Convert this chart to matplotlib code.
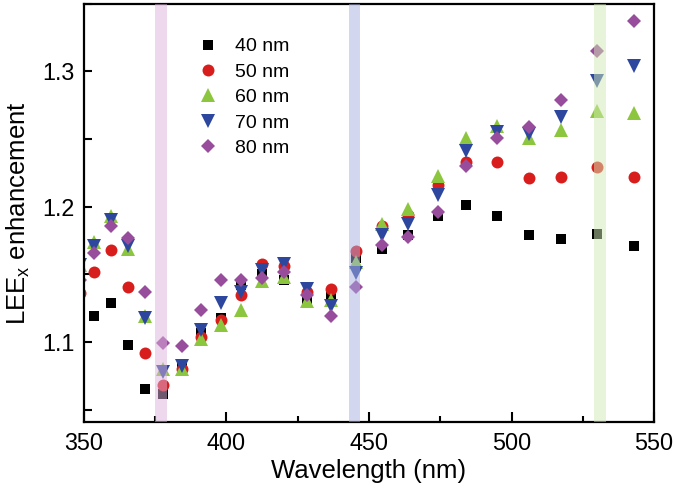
import numpy as np
import matplotlib
matplotlib.use("Agg")
import matplotlib.pyplot as plt
from matplotlib.ticker import MultipleLocator

plt.rcParams['font.family'] = ['Liberation Sans', 'DejaVu Sans']

# wavelength columns (nm); first column is cut by the left axis
wavelength = [348.5, 353.6, 359.5, 365.3, 371.4, 377.6, 384.3, 391.0, 398.0,
              405.0, 412.6, 420.2, 428.4, 436.5, 445.4, 454.7, 463.8, 474.3,
              484.0, 494.8, 506.0, 517.5, 530.1, 543.0]

nan = np.nan
lee_40 = [nan, 1.119, 1.129, 1.098, 1.065, 1.062, 1.082, 1.107, 1.118,
          1.142, 1.150, 1.146, 1.132, 1.135, 1.162, 1.169, 1.179, 1.193,
          1.201, 1.193, 1.179, 1.176, 1.180, 1.171]
lee_50 = [1.136, 1.152, 1.168, 1.141, 1.092, 1.068, 1.080, 1.104, 1.116,
          1.135, 1.158, 1.156, 1.137, 1.139, 1.167, 1.186, 1.194, 1.216,
          1.233, 1.233, 1.221, 1.222, 1.229, 1.222]
lee_60 = [1.157, 1.174, 1.193, 1.169, 1.119, 1.080, 1.080, 1.102, 1.113,
          1.124, 1.145, 1.148, 1.130, 1.131, 1.159, 1.187, 1.198, 1.223,
          1.251, 1.260, 1.251, 1.257, 1.271, 1.269]
lee_70 = [1.157, 1.171, 1.190, 1.171, 1.118, 1.078, 1.082, 1.109, 1.129,
          1.137, 1.153, 1.158, 1.139, 1.127, 1.151, 1.179, 1.187, 1.209,
          1.241, 1.255, 1.254, 1.266, 1.293, 1.304]
lee_80 = [1.146, 1.166, 1.186, 1.177, 1.137, 1.099, 1.097, 1.124, 1.146,
          1.146, 1.147, 1.152, 1.135, 1.119, 1.141, 1.172, 1.178, 1.196,
          1.230, 1.251, 1.259, 1.279, 1.315, 1.337]

labels = ['40 nm', '50 nm', '60 nm', '70 nm', '80 nm']
colors = ['#000000', '#d81e1c', '#8cc63e', '#2c479d', '#984c9c']
markers = ['s', 'o', '^', 'v', 'D']
sizes = [7.6, 8.6, 9.6, 9.6, 7.3]

# highlighted wavelength bands (nm)
bands = [(375.0, 379.0), (443.0, 447.0), (529.0, 533.0)]
band_colors = ['#dcb3dc', '#a9afe0', '#d2eab5']

fig = plt.figure(figsize=(6.75, 4.97), dpi=100)
ax = fig.add_axes([0.1244, 0.151, 0.8446, 0.8415])

series = [lee_40, lee_50, lee_60, lee_70, lee_80]
for vals, lab, c, m, ms in zip(series, labels, colors, markers, sizes):
    ax.plot(wavelength, vals, linestyle='none', marker=m, color=c,
            markersize=ms, markeredgewidth=0, label=lab, zorder=2)

for (lo, hi), bc in zip(bands, band_colors):
    ax.axvspan(lo, hi, color=bc, alpha=0.5, lw=0, zorder=3)

ax.set_xlim(350, 550)
ax.set_ylim(1.041, 1.35)
ax.xaxis.set_major_locator(MultipleLocator(50))
ax.xaxis.set_minor_locator(MultipleLocator(25))
ax.yaxis.set_major_locator(MultipleLocator(0.1))
ax.yaxis.set_minor_locator(MultipleLocator(0.05))
ax.tick_params(axis='both', which='both', direction='in', width=1.5,
               labelsize=16.8, pad=7)
ax.tick_params(axis='x', which='major', length=7)
ax.tick_params(axis='x', which='minor', length=4)
ax.tick_params(axis='y', which='both', length=6)
for sp in ax.spines.values():
    sp.set_linewidth(1.6)

ax.set_xlabel('Wavelength (nm)', fontsize=18.5, labelpad=3)
ax.set_ylabel(r'LEE$_\mathregular{x}$ enhancement', fontsize=18.5, labelpad=7)

ax.legend(loc='upper left', bbox_to_anchor=(0.186, 0.937), frameon=False,
          fontsize=14, handletextpad=0.9, labelspacing=0.4,
          handlelength=1.0, borderaxespad=0)

fig.savefig('out.png', dpi=100)
